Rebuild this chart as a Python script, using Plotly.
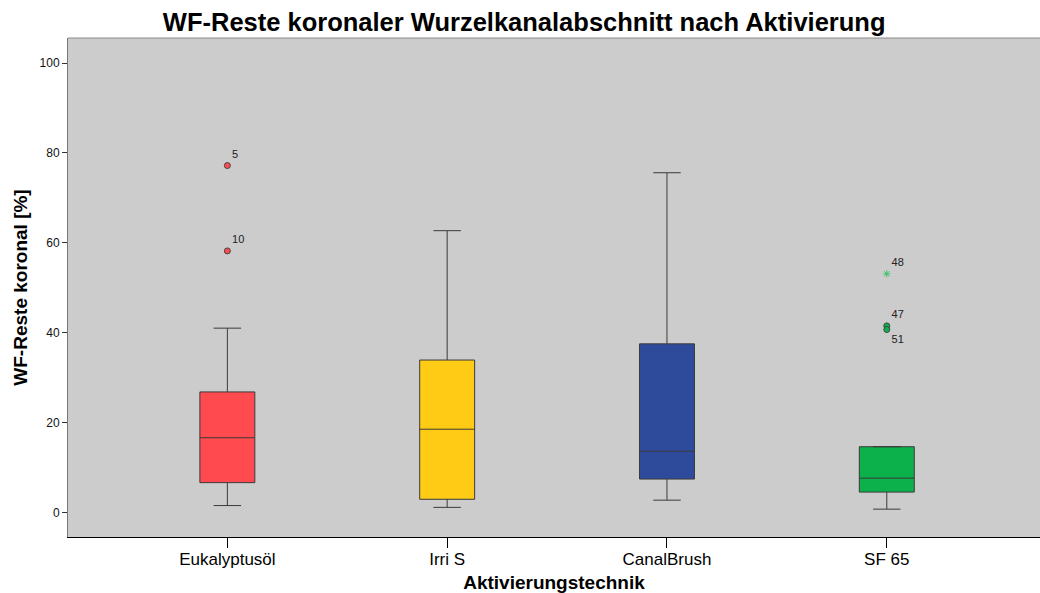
import plotly.graph_objects as go

categories = ["Eukalyptusöl", "Irri S", "CanalBrush", "SF 65"]
q1 = [6.6, 2.9, 7.4, 4.5]
median = [16.6, 18.5, 13.6, 7.6]
q3 = [26.8, 33.9, 37.5, 14.6]
lower_whisker = [1.5, 1.1, 2.7, 0.7]
upper_whisker = [41.0, 62.7, 75.6, 14.6]
colors = ["#FF4B4F", "#FFCB14", "#2E4B9B", "#0DB14B"]

# outliers: (category index, value, case label)
outlier_cat = [0, 0, 3, 3]
outlier_val = [77.2, 58.2, 41.5, 40.7]
outlier_lab = ["5", "10", "47", "51"]
extreme_cat = [3]
extreme_val = [53.1]
extreme_lab = ["48"]

y_ticks = [0, 20, 40, 60, 80, 100]

fig = go.Figure()
for i, c in enumerate(categories):
    fig.add_trace(go.Box(
        x=[i], q1=[q1[i]], median=[median[i]], q3=[q3[i]],
        lowerfence=[lower_whisker[i]], upperfence=[upper_whisker[i]],
        width=0.25, whiskerwidth=0.5,
        fillcolor=colors[i], line=dict(color="#3a3a3a", width=1),
        showlegend=False, hoverinfo="skip",
    ))

out_pos = ["top right", "top right", "top right", "bottom right"]
fig.add_trace(go.Scatter(
    x=outlier_cat, y=outlier_val, mode="markers+text",
    text=outlier_lab, textposition=out_pos,
    textfont=dict(size=11, color="#222", family="Liberation Sans, Arial"),
    marker=dict(symbol="circle", size=6,
                color=[colors[k] for k in outlier_cat],
                line=dict(color="#444", width=1)),
    showlegend=False, hoverinfo="skip", cliponaxis=False,
))
fig.add_trace(go.Scatter(
    x=extreme_cat, y=extreme_val, mode="markers+text",
    text=extreme_lab, textposition="top right",
    textfont=dict(size=11, color="#222", family="Liberation Sans, Arial"),
    marker=dict(symbol="asterisk-open", size=6, color="#3CC36A",
                line=dict(color="#3CC36A", width=1)),
    showlegend=False, hoverinfo="skip",
))

fig.update_layout(
    width=1040, height=593,
    margin=dict(l=68, r=0, t=38, b=56),
    paper_bgcolor="white", plot_bgcolor="#CCCCCC",
    font=dict(family="Liberation Sans, Arial", color="#111"),
    title=dict(text="<b>WF-Reste koronaler Wurzelkanalabschnitt nach Aktivierung</b>",
               x=0.504, xanchor="center", y=0.962, yanchor="middle",
               font=dict(size=25.5, color="#000")),
    xaxis=dict(range=[-0.725, 3.697], tickvals=[0, 1, 2, 3], ticktext=categories,
               showgrid=False, zeroline=False, showline=True, linecolor="#000",
               linewidth=1, ticks="outside", ticklen=10, tickcolor="#000",
               ticklabelstandoff=-3,
               tickfont=dict(size=17, color="#000"),
               title=dict(text="<b>Aktivierungstechnik</b>", standoff=8,
                          font=dict(size=19, color="#000"))),
    yaxis=dict(range=[-5.5, 105.6], tickvals=y_ticks, showgrid=False,
               zeroline=False, showline=True, linecolor="#777", linewidth=1,
               ticks="outside", ticklen=5, tickcolor="#333",
               tickfont=dict(size=12, color="#111"),
               title=dict(text="<b>WF-Reste koronal [%]</b>", standoff=6,
                          font=dict(size=19, color="#000"))),
    shapes=[dict(type="line", xref="paper", yref="paper", x0=0, x1=1, y0=1, y1=1,
                 line=dict(color="#888", width=1))],
)

fig.write_html("out.html")
